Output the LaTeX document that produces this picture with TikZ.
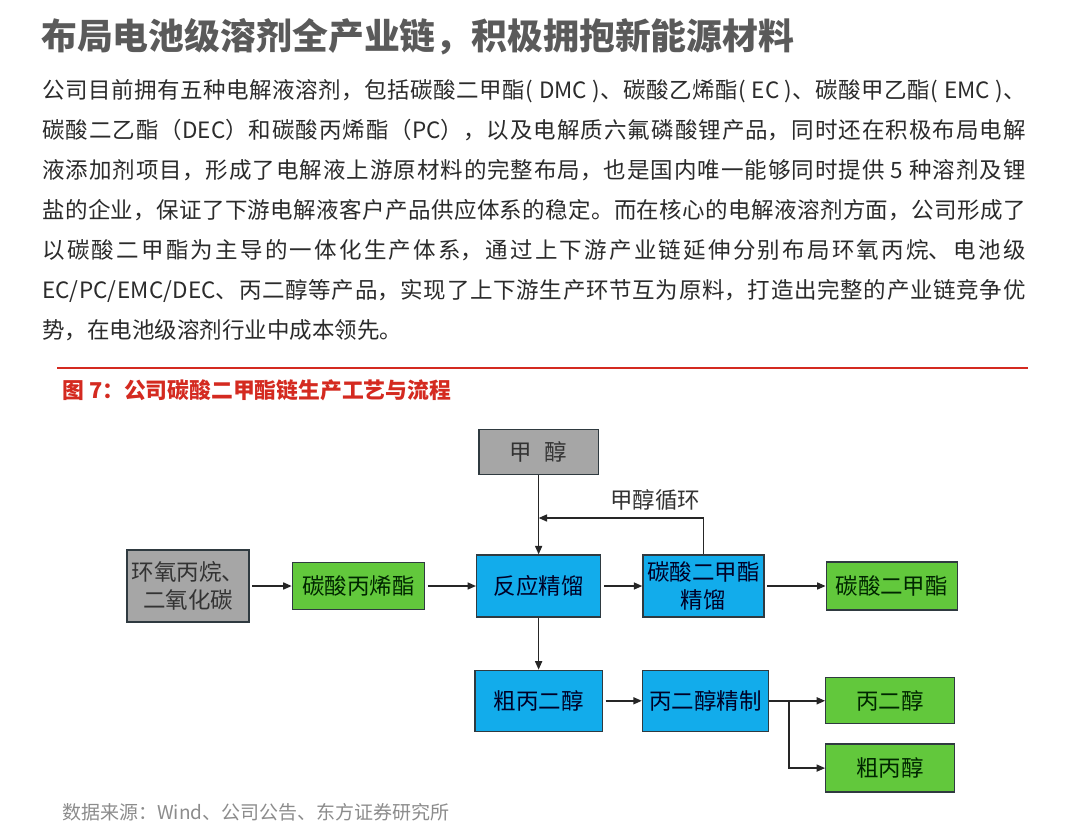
\documentclass[tikz,border=0pt]{standalone}
\usepackage{fontspec}
\newfontfamily\cjk{Noto Sans CJK SC}
\usetikzlibrary{arrows.meta, positioning}
\definecolor{titlegray}{HTML}{5A5A5A}
\definecolor{bodygray}{HTML}{2B2B2B}
\definecolor{srcgray}{HTML}{8C8C8C}
\definecolor{reportred}{HTML}{D42A20}
\definecolor{rawgray}{HTML}{A6A6A6}
\definecolor{prodgreen}{HTML}{62C83C}
\definecolor{procblue}{HTML}{12ACEB}
\definecolor{boxline}{HTML}{2F3A40}
\XeTeXlinebreaklocale "zh"
\XeTeXlinebreakskip=0pt plus 2pt
\tikzstyle{arrow} = [-{Triangle[length=6pt, width=5pt]}, line width=1pt, color=black!85]

\begin{document}
\begin{tikzpicture}[x=0.025cm, y=-0.025cm, node distance=1cm, every node/.style={align=center},
    flowbox/.style={rectangle, draw=boxline, line width=0.9pt, inner sep=0pt,
      font=\cjk\fontsize{16}{19.5}\selectfont},
    rawbox/.style={flowbox, fill=rawgray, text=black!80},
    prodbox/.style={flowbox, fill=prodgreen, text=black!85!green},
    procbox/.style={flowbox, fill=procblue, text=black!85!blue},
    looplabel/.style={font=\cjk\fontsize{16}{19.5}\selectfont, text=black!80}
  ]
    \fill[white] (0,0) rectangle (1080,830);
    \useasboundingbox (0,0) rectangle (1080,830);

    % page text
    \node[anchor=west, inner sep=0pt, text=titlegray,
      font=\cjk\bfseries\fontsize{25.5}{30}\selectfont] (title) at (41,37)
      {布局电池级溶剂全产业链，积极拥抱新能源材料};
    \node[anchor=north west, inner sep=0pt, text width=24.575cm, align=justify, text=bodygray,
      font=\cjk\fontsize{16}{28.45}\selectfont] (body) at (42,79)
      {\noindent 公司目前拥有五种电解液溶剂，包括碳酸二甲酯( DMC )、碳酸乙烯酯( EC )、碳酸甲乙酯( EMC )、\linebreak
      碳酸二乙酯（DEC）和碳酸丙烯酯（PC），以及电解质六氟磷酸锂产品，同时还在积极布局电解\linebreak
      液添加剂项目，形成了电解液上游原材料的完整布局，也是国内唯一能够同时提供 5 种溶剂及锂\linebreak
      盐的企业，保证了下游电解液客户产品供应体系的稳定。而在核心的电解液溶剂方面，公司形成了\linebreak
      以碳酸二甲酯为主导的一体化生产体系，通过上下游产业链延伸分别布局环氧丙烷、电池级\linebreak
      EC/PC/EMC/DEC、丙二醇等产品，实现了上下游生产环节互为原料，打造出完整的产业链竞争优\linebreak
      势，在电池级溶剂行业中成本领先。};
    \draw[reportred, line width=1.4pt] (57,368) -- (1028,368);
    \node[anchor=west, inner sep=0pt, text=reportred,
      font=\cjk\bfseries\fontsize{15.5}{18}\selectfont] (caption) at (62,390)
      {图 7：公司碳酸二甲酯链生产工艺与流程};
    \node[anchor=west, inner sep=0pt, text=srcgray,
      font=\cjk\fontsize{13.5}{16}\selectfont] (source) at (62,812)
      {数据来源：Wind、公司公告、东方证券研究所};

    % flow chart
    \node[rawbox, minimum width=3.05cm, minimum height=1.8cm] (pox) at (188,586) {环氧丙烷、\\二氧化碳};
    \node[prodbox, minimum width=3.3cm, minimum height=1.175cm, right=1.05cm of pox] (pc) {碳酸丙烯酯};
    \node[procbox, minimum width=3.1cm, minimum height=1.55cm, right=1.275cm of pc] (rd) {反应精馏};
    \node[procbox, minimum width=3.025cm, minimum height=1.55cm, right=1.025cm of rd] (dmcd) {碳酸二甲酯\\精馏};
    \node[prodbox, minimum width=3.275cm, minimum height=1.2cm, right=1.525cm of dmcd] (dmc) {碳酸二甲酯};
    \node[rawbox, minimum width=2.975cm, minimum height=1.125cm, above=1.975cm of rd] (meth) {甲\hspace{0.55em}醇};
    \node[procbox, minimum width=3.175cm, minimum height=1.525cm, below=1.3cm of rd] (cpg) {粗丙二醇};
    \node[procbox, minimum width=3.15cm, minimum height=1.525cm, right=0.975cm of cpg] (pgr) {丙二醇精制};
    \node[prodbox, minimum width=3.225cm, minimum height=1.15cm, right=1.4cm of pgr] (pg) {丙二醇};
    \node[prodbox, minimum width=3.225cm, minimum height=1.2cm, below=0.475cm of pg] (cpo) {粗丙醇};
    \node[looplabel] (recyc) at (655,500) {甲醇循环};
    \coordinate (loopin) at (meth.south |- 0,518);
    \coordinate[right=0.5cm of pgr.east] (split);

    \draw[arrow] (meth) -- (rd);
    \draw[arrow] (dmcd.north) |- (loopin);
    \draw[arrow, shorten <=2pt] (pox) -- (pc);
    \draw[arrow, shorten <=2pt] (pc) -- (rd);
    \draw[arrow, shorten <=2pt] (rd) -- (dmcd);
    \draw[arrow, shorten <=2pt] (dmcd) -- (dmc);
    \draw[arrow] (rd) -- (cpg);
    \draw[arrow, shorten <=2pt] (cpg) -- (pgr);
    \draw[arrow] (pgr) -- (pg);
    \draw[arrow] (split) |- (cpo);
\end{tikzpicture}
\end{document}
